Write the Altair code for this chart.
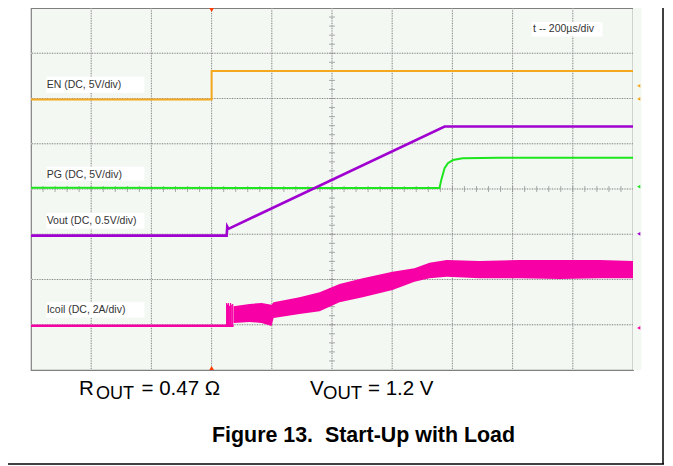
import altair as alt
import pandas as pd

# ---------------- data (x: time in µs, 200 µs/div, trigger at 0; y: screen divisions 0..8) -------------
en_t = [-600, 0, 0, 1400]
en_v = [5.98, 5.98, 6.61, 6.61]

pg_t = [-600, 757, 763, 774, 785, 802, 834, 957, 1400]
pg_v = [4.03, 4.02, 4.20, 4.46, 4.57, 4.64, 4.68, 4.69, 4.69]

vout_t = [-600, 50, 52, 56, 774, 1400]
vout_v = [2.97, 2.97, 3.17, 3.12, 5.38, 5.38]

icoil_base_t = [-600, 73]
icoil_base_v = [0.98, 0.98]
icoil_spike_t = [50, 53, 56, 60, 63, 67, 70]
icoil_spike_top = [1.48, 1.45, 1.48, 1.42, 1.48, 1.44, 1.46]
icoil_band_t = [73, 126, 166, 199, 206, 292, 359, 425, 502, 601, 674, 724, 781, 890, 1023, 1156, 1289, 1400]
icoil_band_hi = [1.41, 1.46, 1.48, 1.44, 1.50, 1.61, 1.72, 1.90, 2.03, 2.17, 2.25, 2.37, 2.43, 2.41, 2.43, 2.43, 2.43, 2.41]
icoil_band_lo = [1.04, 1.06, 1.04, 0.97, 1.15, 1.24, 1.30, 1.50, 1.61, 1.77, 1.95, 2.03, 2.06, 2.03, 2.03, 2.01, 2.03, 2.03]

# channel labels
label_text = ["EN (DC, 5V/div)", "PG (DC, 5V/div)", "Vout (DC, 0.5V/div)", "Icoil (DC, 2A/div)", "t -- 200µs/div"]
label_t = [-548, -548, -548, -548, 1068]
label_v = [6.23, 4.25, 3.23, 1.27, 7.48]
box_t1 = [-549, -549, -549, -549, 1063]
box_t2 = [-223, -223, -223, -223, 1299]
box_v1 = [6.12, 4.18, 3.12, 1.16, 7.37]
box_v2 = [6.48, 4.49, 3.47, 1.50, 7.69]

# channel reference markers on the right
marker_v = [6.28, 5.99, 4.05, 3.01, 0.93]
marker_color = ["#f4a81d", "#f4a81d", "#1ee61e", "#a000d0", "#f700a5"]

# graticule
grid_t = [-400, -200, 0, 200, 400, 600, 800, 1000, 1200]
grid_v = [1, 2, 3, 4, 5, 6, 7]
minor_v = [round(0.2 * i, 2) for i in range(1, 40)]
minor_t = [-600 + 40 * i for i in range(1, 50)]

caption_parts = ["R", "OUT", "= 0.47 Ω", "V", "OUT", "= 1.2 V"]
figure_title = "Figure 13.\u00a0 Start-Up with Load"

# ---------------- chart -------------
FONT = "Liberation Sans"
xs = alt.Scale(domain=[-600, 1400], nice=False, zero=False)
ys = alt.Scale(domain=[0, 8], nice=False, zero=False)


def X(f):
    return alt.X(f, type="quantitative", scale=xs, axis=None)


def Y(f):
    return alt.Y(f, type="quantitative", scale=ys, axis=None)


def X2(f):
    return alt.X2(f)


def Y2(f):
    return alt.Y2(f)


gx = pd.DataFrame({"t": grid_t})
gy = pd.DataFrame({"v": grid_v})
layers = []
layers.append(alt.Chart(gx).mark_rule(color="#d8dcd8", strokeWidth=1).encode(x=X("t")))
layers.append(alt.Chart(gy).mark_rule(color="#d8dcd8", strokeWidth=1).encode(y=Y("v")))
layers.append(alt.Chart(gx).mark_rule(color="#8a8a8a", strokeWidth=1, strokeDash=[1, 1.5]).encode(x=X("t")))
layers.append(alt.Chart(gy).mark_rule(color="#8a8a8a", strokeWidth=1, strokeDash=[1, 1.5]).encode(y=Y("v")))

mv = pd.DataFrame({"t": [400] * len(minor_v), "v": minor_v})
mt = pd.DataFrame({"t": minor_t, "v": [4] * len(minor_t)})
layers.append(alt.Chart(mv).mark_tick(orient="horizontal", size=6, thickness=1, color="#8a8a8a").encode(x=X("t"), y=Y("v")))
layers.append(alt.Chart(mt).mark_tick(orient="vertical", size=6, thickness=1, color="#8a8a8a").encode(x=X("t"), y=Y("v")))

# right strip background
strip = pd.DataFrame({"t1": [1400], "t2": [1428], "v1": [0], "v2": [8]})
layers.append(alt.Chart(strip).mark_rect(color="#f3f8f3").encode(x=X("t1"), x2=X2("t2"), y=Y("v1"), y2=Y2("v2")))

# label boxes
lab = pd.DataFrame({"s": label_text, "t": label_t, "v": label_v, "t1": box_t1, "t2": box_t2, "v1": box_v1, "v2": box_v2})
layers.append(alt.Chart(lab).mark_rect(color="white").encode(x=X("t1"), x2=X2("t2"), y=Y("v1"), y2=Y2("v2")))
layers.append(alt.Chart(lab).mark_text(align="left", baseline="alphabetic", font=FONT, fontSize=10.5, color="#333333").encode(x=X("t"), y=Y("v"), text="s:N"))

# traces
layers.append(alt.Chart(pd.DataFrame({"t": en_t, "v": en_v})).mark_line(color="#f4a81d", strokeWidth=2).encode(x=X("t"), y=Y("v")))
layers.append(alt.Chart(pd.DataFrame({"t": pg_t, "v": pg_v})).mark_line(color="#1ee61e", strokeWidth=2).encode(x=X("t"), y=Y("v")))
layers.append(alt.Chart(pd.DataFrame({"t": icoil_base_t, "v": icoil_base_v})).mark_line(color="#f700a5", strokeWidth=2.5).encode(x=X("t"), y=Y("v")))
sp = pd.DataFrame({"t": icoil_spike_t, "v": [icoil_base_v[0]] * len(icoil_spike_t), "v2": icoil_spike_top})
layers.append(alt.Chart(sp).mark_rule(color="#f700a5", strokeWidth=1.2).encode(x=X("t"), y=Y("v"), y2=Y2("v2")))
band = pd.DataFrame({"t": icoil_band_t, "hi": icoil_band_hi, "lo": icoil_band_lo})
layers.append(alt.Chart(band).mark_area(color="#f700a5", opacity=1, line=False).encode(x=X("t"), y=Y("hi"), y2=Y2("lo")))
layers.append(alt.Chart(pd.DataFrame({"t": vout_t, "v": vout_v})).mark_line(color="#a000d0", strokeWidth=2.6).encode(x=X("t"), y=Y("v")))

# channel markers
mk = pd.DataFrame({"t": [1419] * len(marker_v), "v": marker_v, "c": marker_color})
layers.append(alt.Chart(mk).mark_point(shape="triangle-left", filled=True, size=14, opacity=1).encode(
    x=X("t"), y=Y("v"), color=alt.Color("c:N", scale=None)))

# trigger markers
trig = pd.DataFrame({"t": [0, 0], "v": [8, 0], "shape": ["triangle-down", "triangle-up"]})
layers.append(alt.Chart(trig).mark_point(filled=True, size=90, color="#ff3b00", opacity=1, clip=True).encode(
    x=X("t"), y=Y("v"), shape=alt.Shape("shape:N", scale=None)))

# captions
one = pd.DataFrame({"s": [0]})


def cap(text, x, y, size, bold=False):
    return alt.Chart(pd.DataFrame({"s": [text]})).mark_text(
        align="left", baseline="alphabetic", font=FONT, fontSize=size,
        fontWeight="bold" if bold else "normal", color="black").encode(
        x=alt.value(x), y=alt.value(y), text="s:N")


layers.append(cap(caption_parts[0], 48, 387, 20.5))
layers.append(cap(caption_parts[1], 65, 391, 18))
layers.append(cap(caption_parts[2], 110.5, 387, 20.5))
layers.append(cap(caption_parts[3], 279, 387, 20.5))
layers.append(cap(caption_parts[4], 292, 391, 18.5))
layers.append(cap(caption_parts[5], 337, 387, 20.5))
layers.append(cap(figure_title, 181, 434, 21.4, bold=True))

# figure frame (right and bottom)
layers.append(alt.Chart(one).mark_rule(color="black", strokeWidth=1.5).encode(x=alt.value(632), y=alt.value(-2), y2=alt.value(456)))
layers.append(alt.Chart(one).mark_rule(color="black", strokeWidth=1.5).encode(x=alt.value(-40), x2=alt.value(633), y=alt.value(456)))

chart = alt.layer(*layers).properties(
    width=602, height=362,
    padding={"left": 23, "top": 0, "right": 32, "bottom": 96},
    autosize="none",
    background="white",
).configure_view(fill="#f3f8f3", stroke="#808080", strokeWidth=1.2)

chart.save("out.html", embed_options={"renderer": "svg", "actions": False})
